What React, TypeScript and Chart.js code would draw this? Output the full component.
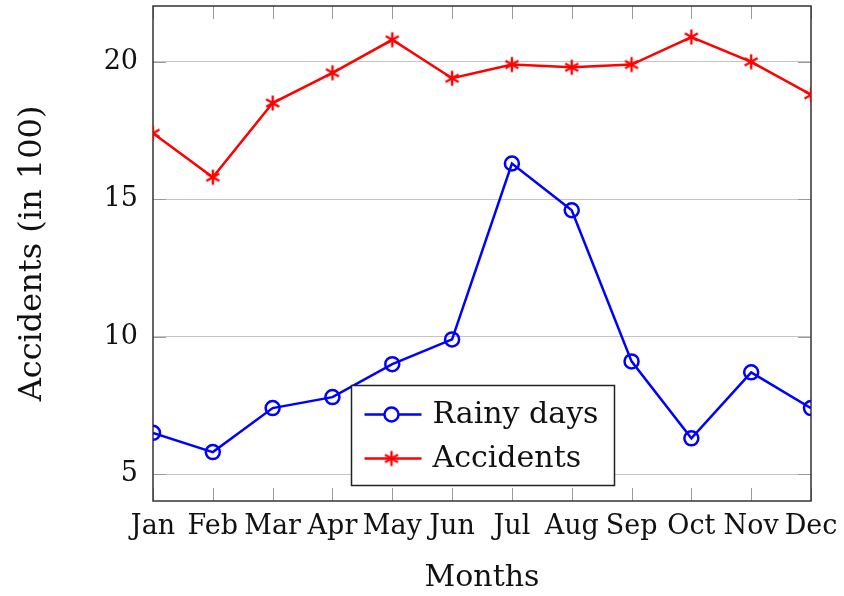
import React, { useEffect, useRef } from "react";
import { Chart, registerables } from "chart.js";
Chart.register(...registerables);

const months = ["Jan", "Feb", "Mar", "Apr", "May", "Jun", "Jul", "Aug", "Sep", "Oct", "Nov", "Dec"];
const rainyDays = [6.5, 5.8, 7.4, 7.8, 9.0, 9.9, 16.3, 14.6, 9.1, 6.3, 8.7, 7.4];
const accidents = [17.4, 15.8, 18.5, 19.6, 20.8, 19.4, 19.9, 19.8, 19.9, 20.9, 20.0, 18.8];
const yTicks = [5, 10, 15, 20];
const yMin = 4.02;
const yMax = 22.03;

const FONT = "'DejaVu Serif', serif";
const BLUE = "#0000ff";
const RED = "#ff0000";

function makeStar(color: string): HTMLCanvasElement {
  const c = document.createElement("canvas");
  c.width = 20;
  c.height = 20;
  const g = c.getContext("2d")!;
  g.strokeStyle = color;
  g.lineWidth = 2.4;
  g.lineCap = "butt";
  const r = 7.5;
  g.beginPath();
  [90, 30, 150].forEach((deg) => {
    const a = (deg * Math.PI) / 180;
    g.moveTo(10 + r * Math.cos(a), 10 - r * Math.sin(a));
    g.lineTo(10 - r * Math.cos(a), 10 + r * Math.sin(a));
  });
  g.stroke();
  return c;
}

export default function App() {
  const ref = useRef<HTMLCanvasElement | null>(null);
  useEffect(() => {
    const canvas = ref.current;
    if (!canvas) return;
    const star = makeStar(RED);
    const TL = 13;

    const framePlugin = {
      id: "frame",
      beforeDatasetsDraw(chart: any) {
        const { ctx, chartArea: a, scales } = chart;
        ctx.save();
        ctx.strokeStyle = "#9a9a9a";
        ctx.lineWidth = 1;
        ctx.beginPath();
        months.forEach((_, i) => {
          const x = Math.round(scales.x.getPixelForValue(i)) + 0.5;
          ctx.moveTo(x, a.bottom);
          ctx.lineTo(x, a.bottom - TL);
          ctx.moveTo(x, a.top);
          ctx.lineTo(x, a.top + TL);
        });
        yTicks.forEach((v) => {
          const y = Math.round(scales.y.getPixelForValue(v)) + 0.5;
          ctx.moveTo(a.left, y);
          ctx.lineTo(a.left + TL, y);
          ctx.moveTo(a.right, y);
          ctx.lineTo(a.right - TL, y);
        });
        ctx.stroke();
        ctx.strokeStyle = "#333333";
        ctx.lineWidth = 1.5;
        ctx.strokeRect(a.left, a.top, a.right - a.left, a.bottom - a.top);
        ctx.restore();
      },
    };

    const legendPlugin = {
      id: "boxLegend",
      afterDraw(chart: any) {
        const { ctx, chartArea: a } = chart;
        const ds = chart.data.datasets;
        ctx.save();
        ctx.font = `30px ${FONT}`;
        const tw = Math.max(...ds.map((d: any) => ctx.measureText(d.label).width));
        const w = 13 + 57 + 11 + tw + 16;
        const h = 100;
        const cx = (a.left + a.right) / 2;
        const left = Math.round(cx - w / 2) + 0.5;
        const bottom = a.bottom - 16;
        const top = Math.round(bottom - h) + 0.5;
        ctx.fillStyle = "#ffffff";
        ctx.fillRect(left, top, w, h);
        ctx.strokeStyle = "#222222";
        ctx.lineWidth = 1.5;
        ctx.strokeRect(left, top, w, h);
        ds.forEach((d: any, i: number) => {
          const y = top + 29 + i * 44;
          const x0 = left + 13;
          ctx.strokeStyle = d.borderColor;
          ctx.lineWidth = 2.5;
          ctx.beginPath();
          ctx.moveTo(x0, y);
          ctx.lineTo(x0 + 57, y);
          ctx.stroke();
          const mx = x0 + 27;
          if (i === 0) {
            ctx.fillStyle = "#ffffff";
            ctx.beginPath();
            ctx.arc(mx, y, 7, 0, Math.PI * 2);
            ctx.fill();
            ctx.stroke();
          } else {
            ctx.drawImage(star, mx - 10, y - 10);
          }
          ctx.fillStyle = "#111111";
          ctx.textBaseline = "middle";
          ctx.textAlign = "left";
          ctx.fillText(d.label, x0 + 68, y + 1);
        });
        ctx.restore();
      },
    };

    const chart = new Chart(canvas, {
      type: "line",
      data: {
        labels: months,
        datasets: [
          {
            label: "Rainy days",
            data: rainyDays,
            borderColor: BLUE,
            backgroundColor: "#ffffff",
            borderWidth: 2.5,
            pointStyle: "circle",
            pointRadius: 7,
            pointBorderWidth: 2.5,
            pointBorderColor: BLUE,
            pointBackgroundColor: "rgba(255,255,255,0)",
            tension: 0,
            clip: 0,
          },
          {
            label: "Accidents",
            data: accidents,
            borderColor: RED,
            backgroundColor: RED,
            borderWidth: 2.5,
            pointStyle: star as any,
            pointRadius: 8,
            tension: 0,
            clip: 0,
          },
        ],
      },
      plugins: [framePlugin, legendPlugin],
      options: {
        responsive: false,
        animation: false,
        devicePixelRatio: 1,
        layout: { autoPadding: false, padding: { top: 6, right: 33, left: 0, bottom: 0 } },
        plugins: { legend: { display: false }, tooltip: { enabled: false } },
        scales: {
          x: {
            type: "category",
            offset: false,
            grid: { display: false, drawTicks: false },
            border: { display: false },
            ticks: {
              autoSkip: false,
              maxRotation: 0,
              minRotation: 0,
              padding: 10,
              color: "#111111",
              font: { family: FONT, size: 27 },
            },
            title: {
              display: true,
              text: "Months",
              color: "#111111",
              font: { family: FONT, size: 30 },
              padding: { top: 0, bottom: 0 },
            },
            afterFit: (s: any) => {
              s.height = 95;
              s.paddingLeft = 0;
              s.paddingRight = 0;
            },
          },
          y: {
            min: yMin,
            max: yMax,
            grid: { color: "#c4c4c4", lineWidth: 1, drawTicks: false },
            border: { display: false },
            ticks: {
              padding: 15,
              color: "#111111",
              font: { family: FONT, size: 27 },
            },
            afterBuildTicks: (s: any) => {
              s.ticks = yTicks.map((v) => ({ value: v }));
            },
            title: {
              display: true,
              text: "Accidents (in 100)",
              color: "#111111",
              font: { family: FONT, size: 32 },
              padding: { top: 13, bottom: 0 },
            },
            afterFit: (s: any) => {
              s.width = 153;
              s.paddingTop = 0;
              s.paddingBottom = 0;
            },
          },
        },
      },
    });
    return () => chart.destroy();
  }, []);

  return (
    <div style={{ position: "fixed", left: 0, top: 0, width: 844, height: 596, background: "#ffffff" }}>
      <canvas ref={ref} width={844} height={596} style={{ display: "block", width: 844, height: 596 }} />
    </div>
  );
}
